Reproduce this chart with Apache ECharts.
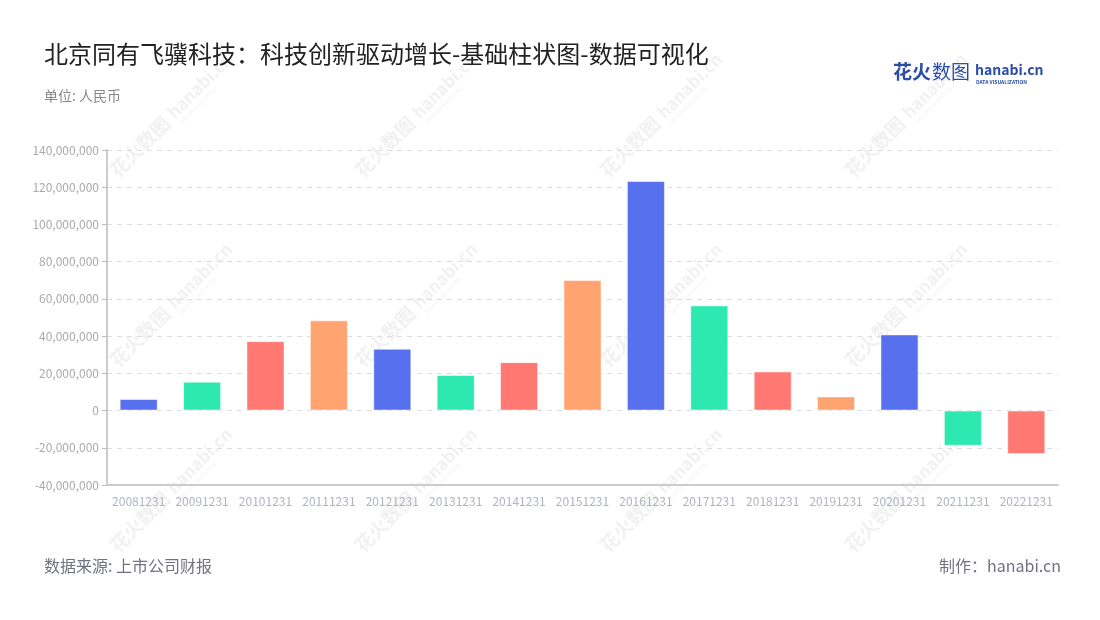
<!DOCTYPE html>
<html>
<head>
<meta charset="utf-8">
<script src="https://cdn.jsdelivr.net/npm/echarts@6/dist/echarts.min.js"></script>
<style>html,body{margin:0;padding:0;background:#fff}#c{width:1100px;height:620px}</style>
</head>
<body>
<div id="c"></div>
<script>
const categories = ['20081231','20091231','20101231','20111231','20121231','20131231','20141231','20151231','20161231','20171231','20181231','20191231','20201231','20211231','20221231'];
const values = [6200000,15500000,37300000,48500000,33200000,19100000,26000000,70100000,123300000,56500000,21000000,7600000,40900000,-18900000,-23400000];
const palette = ['#5670EE','#2DE8B0','#FF7872','#FFA370'];
const titleText = '北京同有飞骥科技：科技创新驱动增长-基础柱状图-数据可视化';
const subText = '单位: 人民币';
const sourceText = '数据来源: 上市公司财报';
const makerText = '制作：hanabi.cn';

const FF = '"Noto Sans CJK SC","Noto Sans",sans-serif';
const chart = echarts.init(document.getElementById('c'));

const wm = [];
const wmPos = [[150,140],[395,140],[640,140],[885,140],[150,330],[395,330],[640,330],[885,330],[150,515],[395,515],[640,515],[885,515]];
wmPos.forEach(p => {
  wm.push({
    type:'group', x:p[0], y:p[1], rotation:Math.PI/4, silent:true, z:100,
    children:[
      {type:'text', x:-50, y:-12, style:{text:'花火数图', font:'bold 19px '+FF, fill:'rgba(170,170,170,0.16)'}},
      {type:'text', x:32, y:-12, style:{text:'hanabi.cn', font:'bold 17px '+FF, fill:'rgba(170,170,170,0.16)'}},
      {type:'text', x:34, y:7, style:{text:'DATA VISUALIZATION', font:'5px '+FF, fill:'rgba(170,170,170,0.16)'}}
    ]
  });
});

chart.setOption({
  backgroundColor:'#fff',
  animation:false,
  title:[
    {text:titleText, left:44, top:42, padding:0, textStyle:{fontFamily:FF, fontSize:24, fontWeight:'normal', color:'#222'}},
    {text:subText, left:44, top:89, padding:0, textStyle:{fontFamily:FF, fontSize:14, fontWeight:'normal', color:'#888'}}
  ],
  graphic:[
    {type:'text', left:44, top:558, style:{text:sourceText, font:'16px '+FF, fill:'#717182'}},
    {type:'text', right:39, top:558, style:{text:makerText, font:'16px '+FF, fill:'#717182'}},
    {type:'text', left:893, top:62, style:{text:'花火', font:'bold 19px '+FF, fill:'#2B4CA8'}},
    {type:'text', left:932, top:62, style:{text:'数图', font:'19px '+FF, fill:'#2B4CA8'}},
    {type:'text', left:975, top:63, style:{text:'hanabi.cn', font:'bold 14px '+FF, fill:'#2B4CA8'}},
    {type:'text', left:976, top:80, style:{text:'DATA VISUALIZATION', font:'bold 5px '+FF, fill:'#2B4CA8'}}
  ].concat(wm),
  grid:{left:107, right:42, top:150, bottom:135},
  xAxis:{
    type:'category', data:categories,
    axisLine:{onZero:false, lineStyle:{color:'#ccc', width:2}},
    axisTick:{alignWithLabel:true, lineStyle:{color:'#bbb'}},
    axisLabel:{color:'#b0b3c0', fontSize:12, fontFamily:FF, interval:0, margin:10}
  },
  yAxis:{
    type:'value', min:-40000000, max:140000000, interval:20000000,
    axisLine:{show:true, lineStyle:{color:'#ccc', width:2}},
    axisTick:{show:true, lineStyle:{color:'#bbb'}},
    axisLabel:{color:'#aaa', fontSize:12, fontFamily:FF, formatter:v => v.toLocaleString('en-US')},
    splitLine:{lineStyle:{color:'#ddd', type:[5,5]}}
  },
  series:[{
    type:'bar', barWidth:'60%',
    data:values.map((v,i)=>({value:v, itemStyle:{color:palette[i%4]}})),
    itemStyle:{borderColor:'rgba(255,255,255,0.5)', borderWidth:1}
  }]
});
</script>
</body>
</html>
